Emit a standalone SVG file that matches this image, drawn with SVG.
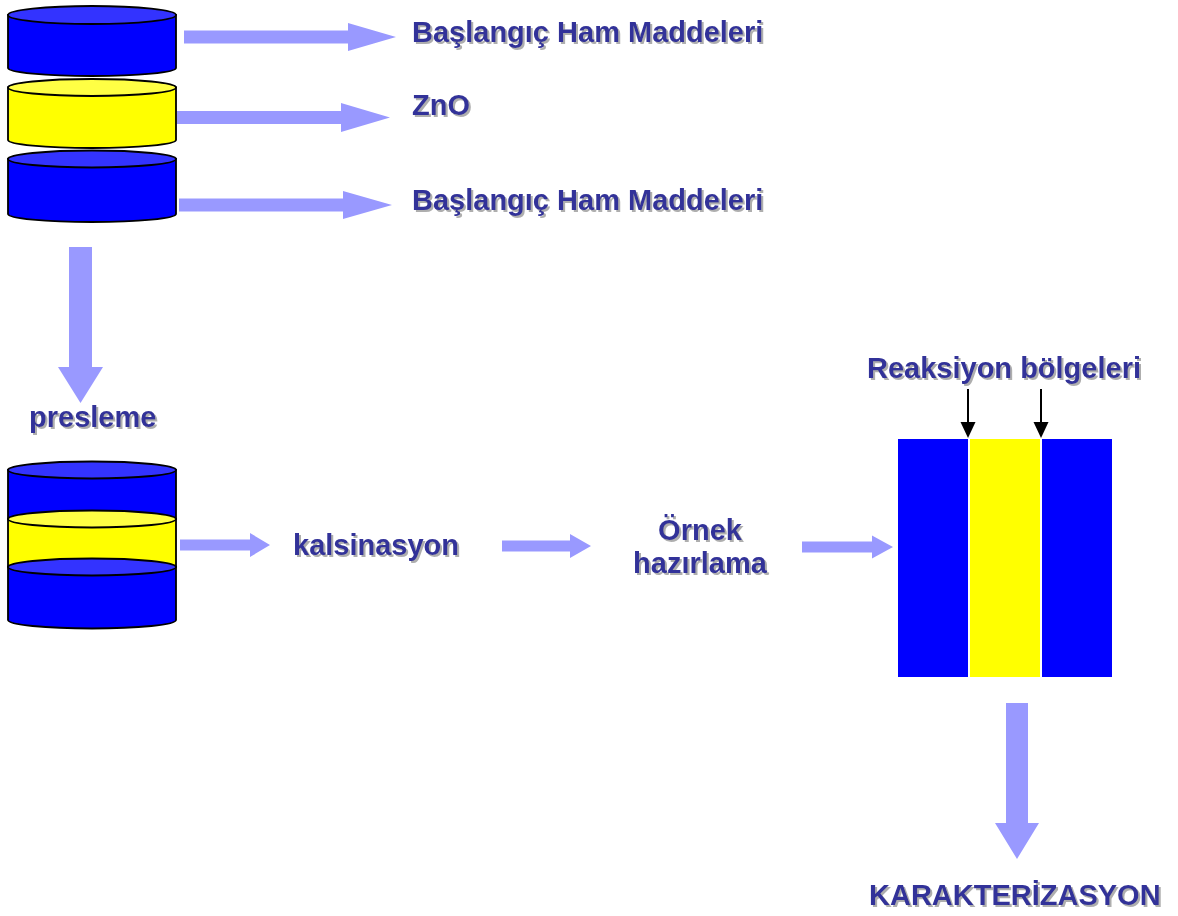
<svg xmlns="http://www.w3.org/2000/svg" width="1178" height="916" viewBox="0 0 1178 916">
  <defs>
    <filter id="shadow" x="-5%" y="-20%" width="115%" height="150%">
      <feDropShadow dx="2" dy="2" stdDeviation="0.6" flood-color="#9a9a9a" flood-opacity="0.8"/>
    </filter>
  </defs>
  <style>
    .lbl { font-family: "Liberation Sans", Arial, sans-serif; font-weight: bold; font-size: 29px; fill: #333399; filter: url(#shadow); }
    .flow { fill: #9999FF; stroke: none; }
    .cyl { stroke: #000; stroke-width: 1.8; }
    .blue { fill: #0000FF; }
    .blueTop { fill: #3333FF; }
    .yellow { fill: #FFFF00; }
    .yellowTop { fill: #FFFF44; }
    .ptr { stroke: #000; stroke-width: 2; fill: none; }
    .ptrHead { fill: #000; }
  </style>

  <rect width="1178" height="916" fill="#ffffff"/>

  <!-- starting stack of three layers -->
  <g id="stack-layer-top">
    <path class="cyl blue" d="M8,15 L8,68 A84,8 0 0 0 176,68 L176,15 Z"/>
    <ellipse class="cyl blueTop" cx="92" cy="15" rx="84" ry="9"/>
  </g>
  <g id="stack-layer-zno">
    <path class="cyl yellow" d="M8,87.5 L8,140 A84,8 0 0 0 176,140 L176,87.5 Z"/>
    <ellipse class="cyl yellowTop" cx="92" cy="87.5" rx="84" ry="8.5"/>
  </g>
  <g id="stack-layer-bottom">
    <path class="cyl blue" d="M8,159 L8,214 A84,8 0 0 0 176,214 L176,159 Z"/>
    <ellipse class="cyl blueTop" cx="92" cy="159" rx="84" ry="8.5"/>
  </g>

  <!-- pressed pellet -->
  <g id="pressed-pellet">
    <path class="cyl blue" d="M8,470 L8,519 A84,8.5 0 0 0 176,519 L176,470 Z"/>
    <ellipse class="cyl blueTop" cx="92" cy="470" rx="84" ry="8.5"/>
    <path class="cyl yellow" d="M8,519 L8,567 A84,8.5 0 0 0 176,567 L176,519 Z"/>
    <ellipse class="cyl yellowTop" cx="92" cy="519" rx="84" ry="8.5"/>
    <path class="cyl blue" d="M8,567 L8,620 A84,8.5 0 0 0 176,620 L176,567 Z"/>
    <ellipse class="cyl blueTop" cx="92" cy="567" rx="84" ry="8.5"/>
  </g>

  <!-- sectioned sample -->
  <g id="sample-section">
    <rect x="898" y="439" width="214" height="238" fill="#ffffff"/>
    <rect class="blue" x="898" y="439" width="70" height="238"/>
    <rect class="yellow" x="970" y="439" width="70" height="238"/>
    <rect class="blue" x="1042" y="439" width="70" height="238"/>
  </g>

  <!-- labels -->
  <g id="label-raw-1"><text class="lbl" x="412" y="42">Başlangıç Ham Maddeleri</text></g>
  <g id="label-zno"><text class="lbl" x="412" y="115">ZnO</text></g>
  <g id="label-raw-2"><text class="lbl" x="412" y="210">Başlangıç Ham Maddeleri</text></g>
  <g id="label-presleme"><text class="lbl" x="29" y="427">presleme</text></g>
  <g id="label-kalsinasyon"><text class="lbl" x="293" y="555">kalsinasyon</text></g>
  <g id="label-ornek">
    <text class="lbl" x="700" y="540" text-anchor="middle">Örnek</text>
    <text class="lbl" x="700" y="573" text-anchor="middle">hazırlama</text>
  </g>
  <g id="label-reaksiyon"><text class="lbl" x="867" y="378">Reaksiyon bölgeleri</text></g>
  <g id="label-karakterizasyon"><text class="lbl" x="869" y="905">KARAKTERİZASYON</text></g>

  <!-- connectors -->
  <g id="connectors">
    <polygon class="flow" points="184,30.5 348,30.5 348,23 396,37 348,51 348,43.5 184,43.5"/>
    <polygon class="flow" points="177,111 341,111 341,103 390,117.5 341,132 341,124 177,124"/>
    <polygon class="flow" points="179,198.5 343,198.5 343,191 392,205 343,219 343,211.5 179,211.5"/>
    <polygon class="flow" points="69,247 92,247 92,367 103,367 80.5,403 58,367 69,367"/>
    <polygon class="flow" points="180,539.5 250,539.5 250,533 270,545 250,557 250,550.5 180,550.5"/>
    <polygon class="flow" points="502,540.5 570,540.5 570,534 591,546 570,558 570,551.5 502,551.5"/>
    <polygon class="flow" points="802,541.5 872,541.5 872,535.5 893,547 872,558.5 872,552.5 802,552.5"/>
    <polygon class="flow" points="1006,703 1028,703 1028,823 1039,823 1017,859 995,823 1006,823"/>
    <line class="ptr" x1="968" y1="389" x2="968" y2="423"/>
    <polygon class="ptrHead" points="960.5,422 975.5,422 968,438"/>
    <line class="ptr" x1="1041" y1="389" x2="1041" y2="423"/>
    <polygon class="ptrHead" points="1033.5,422 1048.5,422 1041,438"/>
  </g>
</svg>
